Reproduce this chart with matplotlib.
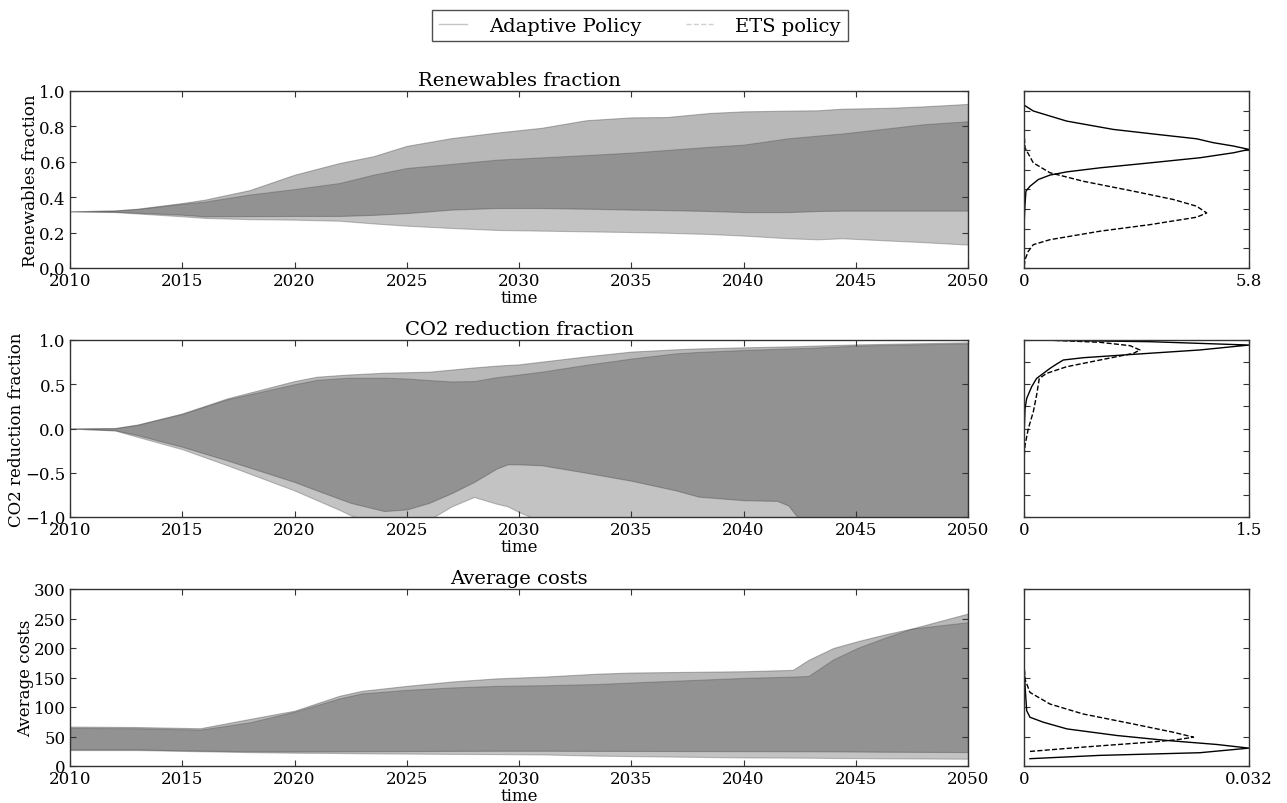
import numpy as np
import matplotlib.pyplot as plt
from matplotlib.lines import Line2D

plt.rcParams["font.family"] = "serif"
plt.rcParams["font.serif"] = ["DejaVu Serif"]

# --- Renewables fraction envelopes ---
REN_YEARS = [2010, 2012, 2013, 2015, 2016, 2018, 2020, 2022, 2023.5, 2025, 2027, 2029,
             2031, 2033, 2035, 2036.6, 2038.5, 2040, 2042, 2043.3, 2044.4, 2046.5, 2048, 2050]
REN_ADAPT_UP = [0.32, 0.325, 0.335, 0.367, 0.386, 0.44, 0.527, 0.593, 0.631, 0.69, 0.734, 0.765,
                0.792, 0.835, 0.851, 0.853, 0.876, 0.885, 0.889, 0.891, 0.9, 0.905, 0.913, 0.927]
REN_ADAPT_LO = [0.32, 0.318, 0.312, 0.301, 0.292, 0.293, 0.294, 0.294, 0.3, 0.31, 0.33, 0.339,
                0.339, 0.335, 0.33, 0.327, 0.322, 0.316, 0.316, 0.322, 0.324, 0.324, 0.324, 0.324]
REN_ETS_UP = [0.32, 0.325, 0.333, 0.363, 0.375, 0.415, 0.446, 0.48, 0.527, 0.565, 0.588, 0.612,
              0.625, 0.638, 0.652, 0.667, 0.685, 0.697, 0.733, 0.748, 0.76, 0.79, 0.812, 0.829]
REN_ETS_LO = [0.32, 0.316, 0.308, 0.292, 0.283, 0.276, 0.273, 0.267, 0.252, 0.239, 0.226, 0.215,
              0.211, 0.207, 0.203, 0.199, 0.192, 0.183, 0.168, 0.162, 0.168, 0.155, 0.146, 0.132]

# --- CO2 reduction fraction envelopes ---
CO2_YEARS = [2010, 2012, 2013, 2015, 2017, 2020, 2021, 2022, 2022.5, 2024, 2025, 2026, 2027,
             2028, 2029, 2029.5, 2030, 2031, 2033, 2035, 2037, 2038, 2040, 2041.5, 2042,
             2042.4, 2043, 2045, 2050]
CO2_ADAPT_UP = [0, 0.005, 0.045, 0.17, 0.34, 0.536, 0.585, 0.603, 0.611, 0.63, 0.636, 0.642,
                0.666, 0.69, 0.71, 0.718, 0.725, 0.755, 0.815, 0.869, 0.895, 0.905, 0.917,
                0.925, 0.928, 0.93, 0.935, 0.95, 0.974]
CO2_ADAPT_LO = [0, -0.02, -0.075, -0.207, -0.36, -0.604, -0.70, -0.793, -0.84, -0.933, -0.914,
                -0.84, -0.73, -0.604, -0.453, -0.404, -0.405, -0.415, -0.50, -0.59, -0.70,
                -0.77, -0.81, -0.818, -0.87, -1.0, -1.15, -1.3, -1.5]
CO2_ETS_UP = [0, 0.003, 0.04, 0.165, 0.33, 0.50, 0.55, 0.568, 0.574, 0.574, 0.565, 0.547,
              0.532, 0.536, 0.58, 0.595, 0.61, 0.642, 0.72, 0.79, 0.85, 0.865, 0.887, 0.9,
              0.905, 0.908, 0.912, 0.937, 0.962]
CO2_ETS_LO = [0, -0.022, -0.094, -0.234, -0.415, -0.70, -0.81, -0.92, -0.98, -1.12, -1.1,
              -1.03, -0.88, -0.774, -0.85, -0.88, -0.945, -1.05, -1.2, -1.3, -1.4, -1.45,
              -1.5, -1.5, -1.5, -1.5, -1.5, -1.5, -1.5]

# --- Average costs envelopes ---
COST_YEARS = [2010, 2013, 2015.8, 2018, 2020, 2022, 2023, 2025, 2027, 2029, 2031.2, 2033.5,
              2035, 2040, 2042.2, 2042.9, 2044, 2045.1, 2046.3, 2047.5, 2050]
COST_ADAPT_UP = [66.8, 66, 64, 79.7, 93.7, 119, 127.4, 135.8, 143.2, 148.5, 151.7, 156.5,
                 158.4, 160.6, 162.9, 180, 200, 211.7, 223, 233, 258.4]
COST_ADAPT_LO = [28, 28, 26, 25, 24.6, 24.8, 25, 25.3, 25.6, 25.8, 25.8, 25.6, 25.5, 25.2,
                 25, 25, 24.8, 24.5, 24.2, 24, 23.6]
COST_ETS_UP = [64.5, 64, 61.7, 74, 92, 114.6, 123, 129.1, 133.1, 135.8, 137, 139, 141.5,
               149.3, 151.5, 152.7, 180.8, 200.5, 217.4, 233, 243.7]
COST_ETS_LO = [27, 27, 25, 23.5, 22.5, 22, 21.5, 21, 20.5, 20.2, 19.5, 17.5, 16.8, 14.5,
               14.2, 14, 13.6, 13.4, 13, 12.8, 12.3]

# --- End-state densities (value, density) ---
REN_KDE_ADAPT_Y = [0.917, 0.887, 0.83, 0.783, 0.755, 0.73, 0.708, 0.689, 0.67, 0.651, 0.623,
                   0.594, 0.566, 0.543, 0.525, 0.5, 0.462, 0.434, 0.358, 0.283]
REN_KDE_ADAPT_D = [0.026, 0.24, 1.1, 2.3, 3.42, 4.45, 4.88, 5.4, 5.8, 5.4, 4.54, 3.25, 1.96,
                   1.1, 0.67, 0.37, 0.155, 0.05, 0.026, 0.01]
REN_KDE_ETS_Y = [0.736, 0.679, 0.594, 0.538, 0.49, 0.434, 0.387, 0.349, 0.311, 0.287, 0.245,
                 0.208, 0.16, 0.132, 0.094, 0.047, 0.019]
REN_KDE_ETS_D = [0.01, 0.026, 0.24, 0.67, 1.53, 2.82, 3.85, 4.45, 4.71, 4.45, 3.25, 1.96,
                 0.67, 0.24, 0.11, 0.026, 0.01]

CO2_KDE_ADAPT_Y = [0.996, 0.981, 0.943, 0.887, 0.838, 0.8, 0.774, 0.717, 0.679, 0.623, 0.566,
                   0.472, 0.34, 0.226, 0.0, -0.264]
CO2_KDE_ADAPT_D = [0.196, 0.84, 1.5, 1.17, 0.729, 0.396, 0.262, 0.207, 0.173, 0.129, 0.084,
                   0.051, 0.018, 0.007, 0.002, 0.0]
CO2_KDE_ETS_Y = [0.996, 0.974, 0.936, 0.887, 0.849, 0.774, 0.698, 0.623, 0.566, 0.377, 0.189,
                 0.0, -0.189, -0.30]
CO2_KDE_ETS_D = [0.207, 0.507, 0.707, 0.773, 0.729, 0.507, 0.284, 0.151, 0.102, 0.084, 0.062,
                 0.029, 0.007, 0.002]

COST_KDE_ADAPT_Y = [12.4, 18, 22.5, 30.3, 36.5, 43.3, 51.7, 62.9, 74.2, 82.6, 93.8, 119, 147, 175]
COST_KDE_ADAPT_D = [0.00085, 0.0108, 0.025, 0.032, 0.0274, 0.0203, 0.0132, 0.0061, 0.00275,
                    0.00085, 0.00038, 0.00024, 0.0001, 0.0]
COST_KDE_ETS_Y = [24.7, 32, 40.4, 44.4, 48.9, 57.3, 71.3, 88.2, 105, 124.7, 147, 175]
COST_KDE_ETS_D = [0.00085, 0.0084, 0.0179, 0.0217, 0.0241, 0.0212, 0.0155, 0.0084, 0.0037,
                  0.00085, 0.00014, 0.0]

PANELS = [
    dict(title="Renewables fraction", years=REN_YEARS,
         adapt=(REN_ADAPT_LO, REN_ADAPT_UP), ets=(REN_ETS_LO, REN_ETS_UP),
         kde_adapt=(REN_KDE_ADAPT_Y, REN_KDE_ADAPT_D), kde_ets=(REN_KDE_ETS_Y, REN_KDE_ETS_D),
         ylim=(0, 1), yticks=[0, 0.2, 0.4, 0.6, 0.8, 1.0], ylabels=["0.0", "0.2", "0.4", "0.6", "0.8", "1.0"],
         kde_yticks=np.linspace(0, 1, 10), kde_max=5.8, kde_label="5.8"),
    dict(title="CO2 reduction fraction", years=CO2_YEARS,
         adapt=(CO2_ADAPT_LO, CO2_ADAPT_UP), ets=(CO2_ETS_LO, CO2_ETS_UP),
         kde_adapt=(CO2_KDE_ADAPT_Y, CO2_KDE_ADAPT_D), kde_ets=(CO2_KDE_ETS_Y, CO2_KDE_ETS_D),
         ylim=(-1, 1), yticks=[-1, -0.5, 0, 0.5, 1], ylabels=["\u22121.0", "\u22120.5", "0.0", "0.5", "1.0"],
         kde_yticks=np.linspace(-1, 1, 9), kde_max=1.5, kde_label="1.5"),
    dict(title="Average costs", years=COST_YEARS,
         adapt=(COST_ADAPT_LO, COST_ADAPT_UP), ets=(COST_ETS_LO, COST_ETS_UP),
         kde_adapt=(COST_KDE_ADAPT_Y, COST_KDE_ADAPT_D), kde_ets=(COST_KDE_ETS_Y, COST_KDE_ETS_D),
         ylim=(0, 300), yticks=[0, 50, 100, 150, 200, 250, 300],
         ylabels=["0", "50", "100", "150", "200", "250", "300"],
         kde_yticks=[0, 50, 100, 150, 200, 250, 300], kde_max=0.032, kde_label="0.032"),
]

ADAPT_COLOR = "#414141"
ADAPT_ALPHA = 0.373
ETS_COLOR = "#3a3a3a"
ETS_ALPHA = 0.30

W, H = 1287, 804
fig = plt.figure(figsize=(W / 100, H / 100), dpi=100, facecolor="white")

main_left, main_w = 70 / W, 898 / W
kde_left, kde_w = 1024 / W, 225 / W
ax_h = 177 / H
bottoms = [(H - 269) / H, (H - 518) / H, (H - 767) / H]


def style_axis(ax):
    ax.tick_params(direction="in", top=True, right=True, length=4, labelsize=12,
                   color="#333333", pad=3)
    for sp in ax.spines.values():
        sp.set_color("#333333")
        sp.set_linewidth(1.0)


for panel, bottom in zip(PANELS, bottoms):
    ax = fig.add_axes([main_left, bottom, main_w, ax_h])
    yrs = panel["years"]
    ax.fill_between(yrs, panel["ets"][0], panel["ets"][1], facecolor=ETS_COLOR,
                    edgecolor=ETS_COLOR, alpha=ETS_ALPHA, linewidth=0.8)
    ax.fill_between(yrs, panel["adapt"][0], panel["adapt"][1], facecolor=ADAPT_COLOR,
                    edgecolor=ADAPT_COLOR, alpha=ADAPT_ALPHA, linewidth=0.8)
    ax.set_xlim(2010, 2050)
    ax.set_ylim(*panel["ylim"])
    ax.set_xticks([2010, 2015, 2020, 2025, 2030, 2035, 2040, 2045, 2050])
    ax.set_yticks(panel["yticks"])
    ax.set_yticklabels(panel["ylabels"])
    ax.set_title(panel["title"], fontsize=14, pad=4)
    ax.set_ylabel(panel["title"], fontsize=12, labelpad=0)
    ax.set_xlabel("time", fontsize=12, labelpad=0)
    style_axis(ax)

    kax = fig.add_axes([kde_left, bottom, kde_w, ax_h])
    kax.plot(panel["kde_adapt"][1], panel["kde_adapt"][0], color="black", lw=1.0)
    kax.plot(panel["kde_ets"][1], panel["kde_ets"][0], color="black", lw=1.0, ls="--")
    kax.set_xlim(0, panel["kde_max"])
    kax.set_ylim(*panel["ylim"])
    kax.set_xticks([0, panel["kde_max"]])
    kax.set_xticklabels(["0", panel["kde_label"]])
    kax.set_yticks(panel["kde_yticks"])
    kax.set_yticklabels([])
    style_axis(kax)

handles = [Line2D([], [], color="#c4c4c4", lw=1.0),
           Line2D([], [], color="#d0d0d0", lw=1.0, ls="--")]
leg = fig.legend(handles, ["Adaptive Policy", "ETS policy"], loc="center",
                 bbox_to_anchor=(640 / W, 1 - 26.5 / H), ncol=2, fontsize=14,
                 frameon=True, fancybox=False, shadow=False, handlelength=1.45,
                 handletextpad=1.1, columnspacing=2.3, borderpad=0.35, borderaxespad=0)
leg.get_frame().set_edgecolor("#222222")
leg.get_frame().set_linewidth(1.0)

fig.savefig("out.png", dpi=100, facecolor="white")
